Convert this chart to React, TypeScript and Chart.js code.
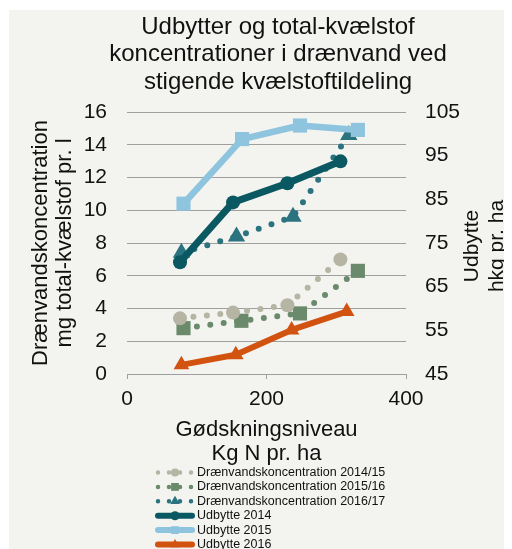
import React, { useEffect, useRef } from 'react';
import { Chart, registerables } from 'chart.js';

Chart.register(...registerables);

const FONT = '"Liberation Sans", Arial, Helvetica, sans-serif';
const TEXT = '#111111';
const GRID = '#9f9f9f';
const BG = '#f3f3ef';

const titleLines = ['Udbytter og total-kvælstof', 'koncentrationer i drænvand ved', 'stigende kvælstoftildeling'];
const xTitleLines = ['Gødskningsniveau', 'Kg N pr. ha'];
const leftTitleLines = ['Drænvandskoncentration', 'mg total-kvælstof pr. l'];
const rightTitleLines = ['Udbytte', 'hkg pr. ha'];

const seriesLabels = [
  'Drænvandskoncentration 2014/15',
  'Drænvandskoncentration 2015/16',
  'Drænvandskoncentration 2016/17',
  'Udbytte 2014',
  'Udbytte 2015',
  'Udbytte 2016',
];

const xTicks = [0, 200, 400];
const leftTicks = [0, 2, 4, 6, 8, 10, 12, 14, 16];
const rightTicks = [45, 55, 65, 75, 85, 95, 105];

const conc1415X = [76, 152, 230, 306];
const conc1415Y = [3.4, 3.75, 4.2, 7.0];
const conc1516X = [81, 164, 248, 331];
const conc1516Y = [2.8, 3.25, 3.7, 6.3];
const conc1617X = [78, 157, 238, 318];
const conc1617Y = [7.4, 8.4, 9.6, 14.6];
const udb2014X = [76, 152, 230, 306];
const udb2014Y = [70.6, 84.3, 88.7, 93.7];
const udb2015X = [81, 165, 248, 331];
const udb2015Y = [84.0, 98.8, 101.9, 100.9];
const udb2016X = [78, 156, 236, 315];
const udb2016Y = [47.1, 49.4, 55.1, 59.3];

const colors = ['#b6b4a2', '#6b8a6b', '#2c7380', '#0a5962', '#8fc4df', '#d2520f'];

function pts(xs: number[], ys: number[]) {
  return xs.map((x, i) => ({ x, y: ys[i] }));
}

function drawMarker(ctx: CanvasRenderingContext2D, style: string, x: number, y: number, r: number) {
  ctx.beginPath();
  if (style === 'circle') {
    ctx.arc(x, y, r, 0, Math.PI * 2);
  } else if (style === 'rect') {
    const s = r * Math.SQRT1_2;
    ctx.rect(x - s, y - s, 2 * s, 2 * s);
  } else {
    ctx.moveTo(x, y - r);
    ctx.lineTo(x + r * Math.sin((2 * Math.PI) / 3), y - r * Math.cos((2 * Math.PI) / 3));
    ctx.lineTo(x + r * Math.sin((4 * Math.PI) / 3), y - r * Math.cos((4 * Math.PI) / 3));
    ctx.closePath();
  }
  ctx.fill();
}

const decorPlugin = {
  id: 'decor',
  afterDraw(chart: any) {
    const ctx: CanvasRenderingContext2D = chart.ctx;
    ctx.save();
    ctx.fillStyle = TEXT;
    ctx.font = `24px ${FONT}`;
    ctx.textAlign = 'center';
    ctx.textBaseline = 'alphabetic';
    titleLines.forEach((t, i) => ctx.fillText(t, 269, 23.5 + i * 27.5));

    ctx.font = `21px ${FONT}`;
    const cy = (chart.chartArea.top + chart.chartArea.bottom) / 2 + 3;
    rightTitleLines.forEach((t, i) => {
      ctx.save();
      ctx.translate(469 + i * 25, cy);
      ctx.rotate(-Math.PI / 2);
      ctx.fillText(t, 0, 0);
      ctx.restore();
    });

    // legend
    chart.data.datasets.forEach((ds: any, i: number) => {
      const y = 462.5 + i * 14.4;
      const dotted = ds.borderDash && ds.borderDash.length > 0;
      ctx.save();
      ctx.strokeStyle = ds.borderColor;
      ctx.fillStyle = ds.backgroundColor;
      ctx.lineCap = 'round';
      if (dotted) {
        ctx.setLineDash([0, 11]);
        ctx.lineWidth = 4.5;
        ctx.beginPath();
        ctx.moveTo(149, y);
        ctx.lineTo(182.5, y);
        ctx.stroke();
        ctx.setLineDash([]);
        drawMarker(ctx, ds.pointStyle, 166, y, ds.pointStyle === 'circle' ? 4 : 5.5);
      } else {
        ctx.lineWidth = 6;
        ctx.beginPath();
        ctx.moveTo(149, y);
        ctx.lineTo(183, y);
        ctx.stroke();
        drawMarker(ctx, ds.pointStyle, 166, y, ds.pointStyle === 'circle' ? 4.5 : 5.5);
      }
      ctx.restore();
      ctx.fillStyle = TEXT;
      ctx.font = `12.5px ${FONT}`;
      ctx.textAlign = 'left';
      ctx.textBaseline = 'middle';
      ctx.fillText(seriesLabels[i], 188, y);
    });
    ctx.restore();
  },
};

export default function App() {
  const ref = useRef<HTMLCanvasElement | null>(null);

  useEffect(() => {
    if (!ref.current) return;
    const dotted = (i: number, xs: number[], ys: number[], style: string, r: number) => ({
      label: seriesLabels[i],
      data: pts(xs, ys),
      yAxisID: 'y',
      showLine: true,
      borderColor: colors[i],
      backgroundColor: colors[i],
      borderWidth: 6,
      borderDash: [0, 13.5],
      borderCapStyle: 'round',
      pointStyle: style,
      pointRadius: r,
      pointBorderWidth: 0,
      order: 10 + i,
    });
    const solid = (i: number, xs: number[], ys: number[], style: string, r: number, w: number) => ({
      label: seriesLabels[i],
      data: pts(xs, ys),
      yAxisID: 'y1',
      showLine: true,
      borderColor: colors[i],
      backgroundColor: colors[i],
      borderWidth: w,
      borderJoinStyle: 'round',
      pointStyle: style,
      pointRadius: r,
      pointBorderWidth: 0,
      order: i,
    });

    const chart = new Chart(ref.current, {
      type: 'scatter',
      data: {
        datasets: [
          dotted(0, conc1415X, conc1415Y, 'circle', 7),
          dotted(1, conc1516X, conc1516Y, 'rect', 10),
          dotted(2, conc1617X, conc1617Y, 'triangle', 10),
          solid(3, udb2014X, udb2014Y, 'circle', 7, 7),
          solid(4, udb2015X, udb2015Y, 'rect', 10, 6.5),
          solid(5, udb2016X, udb2016Y, 'triangle', 9, 6),
        ] as any,
      },
      options: {
        responsive: false,
        animation: false,
        devicePixelRatio: 1,
        layout: { padding: { top: 102, bottom: 81, left: 0, right: 0 } },
        plugins: {
          legend: { display: false },
          title: { display: false },
          tooltip: { enabled: false },
        },
        scales: {
          x: {
            type: 'linear',
            min: 0,
            max: 400,
            afterBuildTicks: (s: any) => {
              s.ticks = xTicks.map((v) => ({ value: v }));
            },
            afterFit: (s: any) => {
              s.height = 96;
            },
            grid: { drawOnChartArea: false, drawTicks: true, tickLength: 5, color: GRID, lineWidth: 1 },
            border: { display: true, color: GRID, width: 1 },
            ticks: { font: { size: 21, family: FONT }, color: TEXT, padding: 8, maxRotation: 0, autoSkip: false },
            title: {
              display: true,
              text: xTitleLines,
              font: { size: 22, family: FONT, lineHeight: 1.1 },
              color: TEXT,
              padding: { top: 0, bottom: 4 },
            },
          },
          y: {
            type: 'linear',
            position: 'left',
            min: 0,
            max: 16,
            afterBuildTicks: (s: any) => {
              s.ticks = leftTicks.map((v) => ({ value: v }));
            },
            afterFit: (s: any) => {
              s.width = 118;
            },
            grid: { color: GRID, lineWidth: 1, drawTicks: false },
            border: { display: false },
            ticks: { font: { size: 21, family: FONT }, color: TEXT, padding: 20 },
            title: {
              display: true,
              text: leftTitleLines,
              font: { size: 22, family: FONT, lineHeight: 1.1 },
              color: TEXT,
              padding: { top: 20, bottom: 0 },
            },
          },
          y1: {
            type: 'linear',
            position: 'right',
            min: 45,
            max: 105,
            afterBuildTicks: (s: any) => {
              s.ticks = rightTicks.map((v) => ({ value: v }));
            },
            afterFit: (s: any) => {
              s.width = 106;
            },
            grid: { drawOnChartArea: false, drawTicks: false },
            border: { display: false },
            ticks: { font: { size: 21, family: FONT }, color: TEXT, padding: 19 },
            title: { display: false },
          },
        },
      } as any,
      plugins: [decorPlugin],
    });
    return () => chart.destroy();
  }, []);

  return (
    <canvas
      ref={ref}
      width={503}
      height={541}
      style={{ display: 'block', position: 'relative', left: 1, top: 2, background: BG, width: 503, height: 541 }}
    />
  );
}
